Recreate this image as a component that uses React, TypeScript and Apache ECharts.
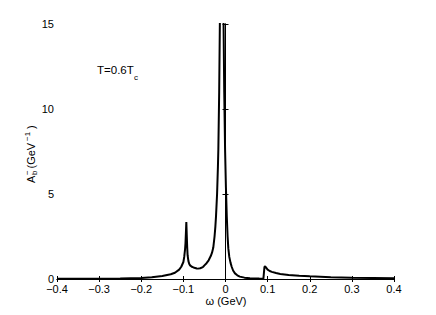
import React, { useEffect, useRef } from "react";
import * as echarts from "echarts";

// omega (GeV) and spectral function A_b^- (GeV^-1)
const omega: number[] = [
  -0.4, -0.35, -0.3, -0.25, -0.2, -0.175, -0.15, -0.13, -0.12, -0.11, -0.105, -0.1,
  -0.098, -0.096, -0.095, -0.094, -0.093, -0.092, -0.091, -0.09, -0.088, -0.086, -0.084,
  -0.08, -0.076, -0.072, -0.068, -0.065, -0.06, -0.055, -0.053, -0.05, -0.045, -0.04,
  -0.035, -0.032, -0.029, -0.026, -0.024, -0.0225, -0.02, -0.018, -0.017, -0.015, -0.013,
  -0.011, -0.009, -0.007, -0.005, -0.003, -0.001, 0.001, 0.003, 0.005, 0.0067, 0.009,
  0.012, 0.0147, 0.018, 0.0225, 0.028, 0.034, 0.045, 0.058, 0.07, 0.08, 0.09, 0.0915,
  0.0925, 0.094, 0.096, 0.1, 0.105, 0.11, 0.12, 0.13, 0.15, 0.175, 0.2, 0.25, 0.3, 0.35,
  0.4,
];
const spectral: number[] = [
  0.01, 0.015, 0.02, 0.03, 0.06, 0.1, 0.18, 0.28, 0.37, 0.55, 0.72, 1.0,
  1.3, 1.75, 2.1, 2.7, 3.35, 2.6, 1.9, 1.4, 1.05, 0.88, 0.8,
  0.72, 0.68, 0.65, 0.62, 0.61, 0.63, 0.68, 0.72, 0.8, 0.93, 1.1,
  1.35, 1.55, 1.85, 2.5, 3.1, 3.7, 5.0, 6.6, 7.6, 11, 16,
  26, 35, 26, 16, 11, 7.6, 5.4, 3.7, 2.5, 1.8, 1.3,
  0.95, 0.72, 0.5, 0.33, 0.22, 0.14, 0.08, 0.05, 0.035, 0.028, 0.022, 0.02,
  0.72, 0.74, 0.68, 0.55, 0.47, 0.42, 0.35, 0.3, 0.24, 0.19, 0.16, 0.11, 0.08, 0.06,
  0.04,
];
const xTicks = { min: -0.4, max: 0.4, interval: 0.1 };
const yTicks = { min: 0, max: 15, interval: 5 };

const FONT = "'Liberation Sans', Arial, Helvetica, sans-serif";

function fmtX(v: number): string {
  if (Math.abs(v) < 1e-9) return "0";
  const s = v.toFixed(1);
  return s.replace("-", "\u2212");
}

export default function App() {
  const ref = useRef<HTMLDivElement>(null);
  useEffect(() => {
    if (!ref.current) return;
    const chart = echarts.init(ref.current, undefined, { renderer: "svg" });
    const data = omega.map((w, i) => [w, spectral[i]]);
    const axisLine = { show: true, lineStyle: { color: "#000", width: 1 } };
    const tick = { show: true, inside: true, length: 3, lineStyle: { color: "#000", width: 1 } };
    chart.setOption({
      animation: false,
      backgroundColor: "#fff",
      textStyle: { fontFamily: FONT },
      grid: { left: 57, right: 42, top: 24, bottom: 36 },
      xAxis: [
        {
          type: "value",
          position: "bottom",
          ...xTicks,
          axisLine,
          axisTick: tick,
          splitLine: { show: false },
          axisLabel: {
            show: true,
            margin: 4,
            color: "#000",
            fontSize: 11,
            fontFamily: FONT,
            formatter: fmtX,
            showMinLabel: true,
            showMaxLabel: true,
          },
        },
        {
          type: "value",
          position: "top",
          ...xTicks,
          axisLine,
          axisTick: tick,
          splitLine: { show: false },
          axisLabel: { show: false },
        },
      ],
      yAxis: [
        {
          type: "value",
          position: "left",
          ...yTicks,
          axisLine,
          axisTick: tick,
          splitLine: { show: false },
          axisLabel: {
            show: true,
            margin: 3,
            color: "#000",
            fontSize: 11,
            fontFamily: FONT,
            showMinLabel: true,
            showMaxLabel: true,
          },
        },
        {
          type: "value",
          position: "right",
          ...yTicks,
          axisLine,
          axisTick: tick,
          splitLine: { show: false },
          axisLabel: { show: false },
        },
      ],
      series: [
        {
          type: "line",
          data,
          xAxisIndex: 0,
          yAxisIndex: 0,
          showSymbol: false,
          symbol: "none",
          smooth: false,
          clip: true,
          lineStyle: { color: "#000", width: 2 },
        },
      ],
      graphic: [
        {
          type: "text",
          left: 97,
          top: 64,
          style: { text: "T=0.6T", fontSize: 11.5, fontFamily: FONT, fill: "#000" },
        },
        {
          type: "text",
          left: 134,
          top: 73,
          style: { text: "c", fontSize: 8, fontFamily: FONT, fill: "#000" },
        },
        {
          type: "text",
          x: 226,
          y: 301,
          style: {
            text: "\u03c9 (GeV)",
            fontSize: 11,
            fontFamily: FONT,
            fill: "#000",
            align: "center",
            verticalAlign: "middle",
          },
        },
        {
          type: "group",
          x: 31,
          y: 150,
          rotation: Math.PI / 2,
          children: [
            { type: "text", x: -33, y: 0, style: { text: "A", fontSize: 11, fontFamily: FONT, fill: "#000", verticalAlign: "middle" } },
            { type: "text", x: -25, y: 3.5, style: { text: "b", fontSize: 8, fontFamily: FONT, fill: "#000", verticalAlign: "middle" } },
            { type: "text", x: -25, y: -3.8, style: { text: "\u2212", fontSize: 8, fontFamily: FONT, fill: "#000", verticalAlign: "middle" } },
            { type: "text", x: -18.5, y: 0, style: { text: "(GeV", fontSize: 11, fontFamily: FONT, fill: "#000", verticalAlign: "middle" } },
            { type: "text", x: 9, y: -4, style: { text: "\u22121", fontSize: 8, fontFamily: FONT, fill: "#000", verticalAlign: "middle" } },
            { type: "text", x: 21, y: 0, style: { text: ")", fontSize: 11, fontFamily: FONT, fill: "#000", verticalAlign: "middle" } },
          ],
        },
      ],
    });
    return () => chart.dispose();
  }, []);
  return (
    <div
      ref={ref}
      style={{ position: "fixed", left: 0, top: 0, width: 436, height: 315, background: "#fff" }}
    />
  );
}
